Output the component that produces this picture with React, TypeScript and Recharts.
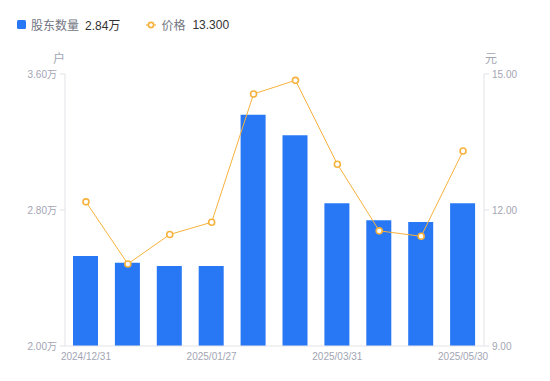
import { Bar, ComposedChart, Line, XAxis, YAxis } from "recharts";

const dates = [
  "2024/12/31",
  "2025/01/10",
  "2025/01/20",
  "2025/01/27",
  "2025/02/14",
  "2025/02/28",
  "2025/03/31",
  "2025/04/18",
  "2025/04/30",
  "2025/05/30",
];
const holders = [2.53, 2.49, 2.47, 2.47, 3.36, 3.24, 2.84, 2.74, 2.73, 2.84];
const prices = [12.18, 10.81, 11.46, 11.73, 14.56, 14.86, 13.01, 11.54, 11.42, 13.3];
const leftTicks = [2.0, 2.8, 3.6];
const rightTicks = [9, 12, 15];

const data = dates.map((d, i) => ({ date: d, holders: holders[i], price: prices[i] }));

const BLUE = "#2878f5";
const ORANGE = "#f7b23d";
const AXIS = "#e2e3e8";
const TICK = "#a3a5b3";
const FONT = "'Liberation Sans', 'Noto Sans CJK SC', sans-serif";

const tickStyle = { fill: TICK, fontSize: 10, fontFamily: FONT };

function HollowDot(props: any) {
  const { cx, cy } = props;
  return <circle cx={cx} cy={cy} r={3} fill="#fff" stroke={ORANGE} strokeWidth={1.6} />;
}

export default function App() {
  return (
    <div style={{ position: "absolute", left: 0, top: 0, width: 550, height: 381, background: "#fff", fontFamily: FONT }}>
      <div style={{ position: "absolute", left: 17, top: 16, height: 17, display: "flex", alignItems: "center", fontSize: 12 }}>
        <span style={{ width: 9, height: 9, background: BLUE, borderRadius: 1.5, display: "inline-block" }} />
        <span style={{ marginLeft: 5, color: "#737683" }}>股东数量</span>
        <span style={{ marginLeft: 6, color: "#333" }}>2.84万</span>
        <svg width={12} height={10} style={{ marginLeft: 26 }}>
          <line x1={0} y1={5} x2={10} y2={5} stroke={ORANGE} strokeWidth={1.2} />
          <circle cx={5} cy={5} r={2.6} fill="#fff" stroke={ORANGE} strokeWidth={1.6} />
        </svg>
        <span style={{ marginLeft: 3, color: "#737683" }}>价格</span>
        <span style={{ marginLeft: 7, color: "#333" }}>13.300</span>
      </div>
      <div style={{ position: "absolute", left: 53, top: 49, fontSize: 12, color: TICK }}>户</div>
      <div style={{ position: "absolute", left: 485, top: 49, fontSize: 12, color: TICK }}>元</div>
      <ComposedChart
        width={550}
        height={381}
        data={data}
        margin={{ top: 74, right: 0, bottom: 5, left: 0 }}
        barSize={25}
      >
        <XAxis
          dataKey="date"
          interval={2}
          tickLine={false}
          axisLine={{ stroke: AXIS }}
          tick={tickStyle}
          height={30}
          tickSize={5}
          tickMargin={2}
        />
        <YAxis
          yAxisId="left"
          orientation="left"
          width={65}
          domain={[2, 3.6]}
          ticks={leftTicks}
          tickFormatter={(v: number) => `${v.toFixed(2)}万`}
          tick={tickStyle}
          axisLine={{ stroke: AXIS }}
          tickLine={{ stroke: AXIS }}
          tickSize={5}
          tickMargin={3}
        />
        <YAxis
          yAxisId="right"
          orientation="right"
          width={66}
          domain={[9, 15]}
          ticks={rightTicks}
          tickFormatter={(v: number) => v.toFixed(2)}
          tick={tickStyle}
          axisLine={{ stroke: AXIS }}
          tickLine={{ stroke: AXIS }}
          tickSize={5}
          tickMargin={3}
        />
        <Bar yAxisId="left" dataKey="holders" fill={BLUE} isAnimationActive={false} />
        <Line
          yAxisId="right"
          dataKey="price"
          type="linear"
          stroke={ORANGE}
          strokeWidth={1}
          dot={<HollowDot />}
          activeDot={false}
          isAnimationActive={false}
        />
      </ComposedChart>
    </div>
  );
}
